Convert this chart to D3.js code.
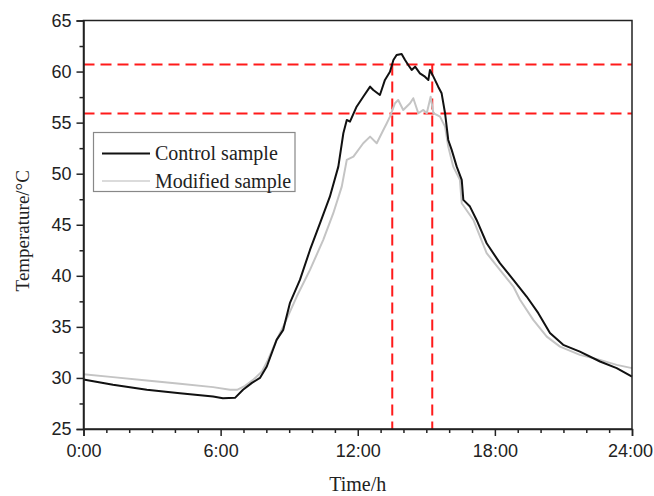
<!DOCTYPE html>
<html><head><meta charset="utf-8">
<script src="https://cdn.jsdelivr.net/npm/d3@7"></script>
<style>
html,body{margin:0;padding:0;background:#fff;}
svg{display:block;}
</style></head>
<body>
<svg id="chart" width="654" height="496"></svg>
<script>
// ---- data ----
const controlHours = [0,1.29,2.77,4.22,5.67,6.1,6.63,6.98,7.37,7.72,8.02,8.45,8.74,9.03,9.47,9.91,10.35,10.78,11.15,11.37,11.52,11.66,11.95,12.24,12.54,12.68,12.97,13.19,13.41,13.56,13.7,13.92,14.07,14.21,14.36,14.51,14.72,14.94,15.09,15.16,15.31,15.52,15.67,15.82,15.96,16.11,16.33,16.55,16.62,16.91,17.2,17.64,18.22,18.81,19.39,19.9,20.41,20.99,21.72,22.6,23.33,24];
const controlTemps = [29.85,29.33,28.84,28.51,28.18,28.02,28.05,28.84,29.52,30.0,31.12,33.73,34.71,37.32,39.6,42.53,45.15,47.75,50.69,53.96,55.26,55.1,56.56,57.54,58.52,58.2,57.71,59.18,59.99,61.13,61.62,61.72,61.13,60.64,60.16,60.48,59.83,59.5,59.18,60.16,59.5,58.52,57.87,55.92,53.3,52.33,50.69,49.39,47.44,46.78,45.47,43.19,41.24,39.6,37.97,36.34,34.39,33.24,32.58,31.61,30.96,30.14];
const modifiedHours = [0,1.29,2.77,4.22,5.67,6.41,6.72,7.07,7.42,7.81,8.07,8.45,8.74,9.33,9.91,10.49,10.93,11.3,11.52,11.81,12.24,12.54,12.83,13.12,13.27,13.41,13.63,13.77,13.99,14.29,14.43,14.65,14.87,15.02,15.19,15.31,15.6,15.82,15.96,16.18,16.47,16.55,17.06,17.64,18.22,18.81,19.1,19.68,20.27,20.85,21.72,22.6,23.33,24];
const modifiedTemps = [30.37,30.08,29.75,29.42,29.1,28.84,28.84,29.23,29.81,30.63,31.77,33.73,35.03,37.97,40.58,43.52,46.13,48.73,51.35,51.67,52.98,53.63,52.98,54.28,54.94,55.59,56.9,57.22,56.24,56.9,57.39,55.92,56.24,55.92,57.54,55.92,55.59,54.61,52.65,50.69,49.39,47.11,45.47,42.22,40.58,38.95,37.65,35.69,34.05,33.07,32.26,31.77,31.28,30.96];
const seriesNames = ["Control sample","Modified sample"];
const xMajorTicks = [0,6,12,18,24];
const yMajorTicks = [25,30,35,40,45,50,55,60,65];
const refTemps = [60.7,55.9];
const refHours = [13.51,15.26];

// ---- layout ----
const L = 83.5, R = 632, T = 20.5, B = 429;
const svg = d3.select("#chart");
const x = d3.scaleLinear().domain([0,24]).range([L,R]);
const y = d3.scaleLinear().domain([25,65]).range([B,T]);

const sans = "'Liberation Sans', Arial, sans-serif";
const serif = "'Liberation Serif', 'Times New Roman', serif";

// reference lines
const red = "#ff1a1a";
svg.append("g").selectAll("line.h").data(refTemps).join("line")
  .attr("x1", L).attr("x2", R).attr("y1", d=>y(d)).attr("y2", d=>y(d))
  .attr("stroke", red).attr("stroke-width", 2).attr("stroke-dasharray","11,6");
svg.append("g").selectAll("line.v").data(refHours).join("line")
  .attr("x1", d=>x(d)).attr("x2", d=>x(d)).attr("y1", y(refTemps[0])).attr("y2", B)
  .attr("stroke", red).attr("stroke-width", 2).attr("stroke-dasharray","11,6");

// curves
const line = d3.line().x(d=>x(d[0])).y(d=>y(d[1]));
const mod = modifiedHours.map((h,i)=>[h, modifiedTemps[i]]);
const ctl = controlHours.map((h,i)=>[h, controlTemps[i]]);
svg.append("path").datum(mod).attr("d", line).attr("fill","none")
  .attr("stroke","#c4c4c4").attr("stroke-width",2).attr("stroke-linejoin","round");
svg.append("path").datum(ctl).attr("d", line).attr("fill","none")
  .attr("stroke","#111").attr("stroke-width",2).attr("stroke-linejoin","round");

// frame
svg.append("rect").attr("x",L).attr("y",T).attr("width",R-L).attr("height",B-T)
  .attr("fill","none").attr("stroke","#222").attr("stroke-width",1.5);

// axes
const xMinor = d3.range(0,25,1).filter(h=>h%6!==0);
const yMinor = d3.range(27.5,65,5);
const gx = svg.append("g").attr("transform",`translate(0,${B})`)
  .call(d3.axisBottom(x).tickValues(xMajorTicks).tickSize(7).tickPadding(8).tickFormat(d=>d+":00"));
gx.selectAll(".tick text").filter(d=>d===24).attr("dx","-2");
svg.append("g").attr("transform",`translate(0,${B})`)
  .call(d3.axisBottom(x).tickValues(xMinor).tickSize(4).tickFormat(""))
  .select(".domain").remove();
const gy = svg.append("g").attr("transform",`translate(${L},0)`)
  .call(d3.axisLeft(y).tickValues(yMajorTicks).tickSize(7).tickPadding(5));
svg.append("g").attr("transform",`translate(${L},0)`)
  .call(d3.axisLeft(y).tickValues(yMinor).tickSize(4).tickFormat(""))
  .select(".domain").remove();
svg.selectAll(".domain").attr("stroke","#222").attr("stroke-width",1.5);
svg.selectAll(".tick line").attr("stroke","#222").attr("stroke-width",1.5);
svg.selectAll(".tick text").attr("fill","#222").style("font-family",sans).style("font-size","18px");

// axis titles
svg.append("text").attr("x",(L+R)/2).attr("y",491).attr("text-anchor","middle")
  .style("font-family",serif).style("font-size","20px").attr("fill","#222").text("Time/h");
svg.append("text").attr("transform",`translate(29,${(T+B)/2+6}) rotate(-90)`).attr("text-anchor","middle")
  .style("font-family",serif).style("font-size","19px").attr("fill","#222").text("Temperature/°C");

// legend
const lg = svg.append("g");
lg.append("rect").attr("x",93.5).attr("y",132.5).attr("width",201.5).attr("height",59)
  .attr("fill","#fff").attr("stroke","#888").attr("stroke-width",1.2);
const legColors = ["#111","#cfcfcf"];
seriesNames.forEach((name,i)=>{
  const yy = 153.5 + i*27.5;
  lg.append("line").attr("x1",102).attr("x2",150).attr("y1",yy).attr("y2",yy)
    .attr("stroke",legColors[i]).attr("stroke-width", i===0?2:1.5);
  lg.append("text").attr("x",155).attr("y",yy+6.5)
    .style("font-family",serif).style("font-size","20px").attr("fill","#222").text(name);
});
</script>
</body></html>
